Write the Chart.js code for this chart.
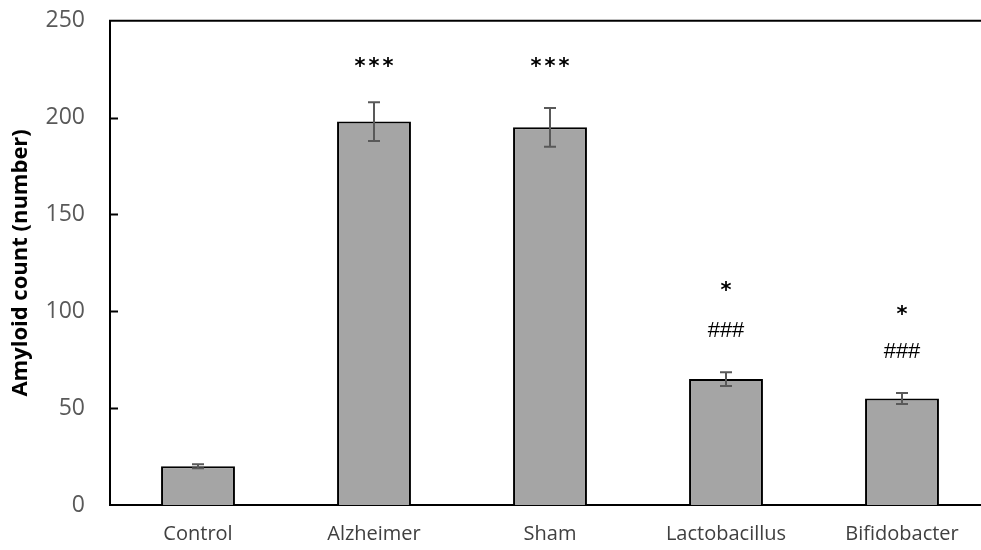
<!DOCTYPE html>
<html>
<head>
<meta charset="utf-8">
<script src="https://cdn.jsdelivr.net/npm/chart.js@4"></script>
<style>
  html, body { margin: 0; padding: 0; background: #fff; overflow: hidden; }
  #wrap { width: 1000px; height: 568px; margin-top: -18px; }
</style>
</head>
<body>
<div id="wrap"><canvas id="myChart"></canvas></div>
<script>
const groups = ['Control', 'Alzheimer', 'Sham', 'Lactobacillus', 'Bifidobacter'];
const amyloid = [20, 198, 195, 65, 55];
const amyloidErr = [1, 10, 10, 3.5, 2.8];
// significance marks, placed at a value on the y scale
const starText = ['', '***', '***', '*', '*'];
const starAt = [null, 226, 226, 110, 98];
const hashText = ['', '', '', '###', '###'];
const hashAt = [null, null, null, 90, 79];
const yTicks = [0, 50, 100, 150, 200, 250];

const ctx = document.getElementById('myChart');

// error bars, inward ticks, top frame line and the marks above the bars
const extras = {
  id: 'extras',
  afterDatasetsDraw(chart) {
    const c = chart.ctx;
    const x = chart.scales.x;
    const y = chart.scales.y;
    const area = chart.chartArea;
    c.save();

    c.strokeStyle = '#595959';
    c.lineWidth = 2;
    amyloid.forEach((v, i) => {
      const cx = x.getPixelForValue(i);
      const top = y.getPixelForValue(v + amyloidErr[i]);
      const bot = y.getPixelForValue(v - amyloidErr[i]);
      c.beginPath();
      c.moveTo(cx, top); c.lineTo(cx, bot);
      c.moveTo(cx - 6, top); c.lineTo(cx + 6, top);
      c.moveTo(cx - 6, bot); c.lineTo(cx + 6, bot);
      c.stroke();
    });

    c.strokeStyle = '#000';
    c.lineWidth = 2;
    yTicks.forEach(t => {
      if (t === 0 || t === 250) return;
      const py = Math.round(y.getPixelForValue(t)) + 0.5;
      c.beginPath();
      c.moveTo(area.left, py); c.lineTo(area.left + 8, py);
      c.stroke();
    });
    c.beginPath();
    c.moveTo(area.left - 1, area.top); c.lineTo(chart.width, area.top);
    c.stroke();

    c.fillStyle = '#000';
    c.textAlign = 'center';
    c.textBaseline = 'middle';
    c.font = 'bold 21px "DejaVu Sans"';
    starText.forEach((s, i) => {
      if (!s) return;
      c.letterSpacing = s.length > 1 ? '3px' : '0px';
      c.fillText(s, x.getPixelForValue(i) + (s.length > 1 ? 1.5 : 0), y.getPixelForValue(starAt[i]));
    });
    c.letterSpacing = '0px';
    c.font = '22px "Liberation Sans"';
    hashText.forEach((s, i) => {
      if (!s) return;
      c.fillText(s, x.getPixelForValue(i), y.getPixelForValue(hashAt[i]));
    });
    c.restore();
  }
};

new Chart(ctx, {
  type: 'bar',
  data: {
    labels: groups,
    datasets: [{
      label: 'Amyloid count',
      data: amyloid,
      backgroundColor: '#a5a5a5',
      borderColor: '#000',
      borderWidth: 2,
      categoryPercentage: 1,
      barPercentage: 0.42
    }]
  },
  options: {
    responsive: true,
    maintainAspectRatio: false,
    animation: false,
    layout: { padding: { top: 2, right: 10, left: 0, bottom: 0 } },
    plugins: {
      legend: { display: false },
      tooltip: { enabled: false }
    },
    scales: {
      x: {
        grid: { display: false, drawTicks: false },
        border: { color: '#000', width: 2 },
        ticks: { color: '#404040', font: { family: 'Open Sans', size: 20 }, padding: 17 },
        afterFit: axis => { axis.height = 45; }
      },
      y: {
        min: 0,
        max: 250,
        afterBuildTicks: axis => { axis.ticks = yTicks.map(v => ({ value: v })); },
        grid: { display: false, drawTicks: false },
        border: { color: '#000', width: 2 },
        ticks: { color: '#595959', font: { family: 'Open Sans', size: 23 }, padding: 25 },
        title: {
          display: true,
          text: 'Amyloid count (number)',
          color: '#000',
          font: { family: 'Open Sans', size: 22, weight: 'bold' },
          padding: { top: 8, bottom: 0 }
        },
        afterFit: axis => { axis.width = 110; }
      }
    }
  },
  plugins: [extras]
});
</script>
</body>
</html>
